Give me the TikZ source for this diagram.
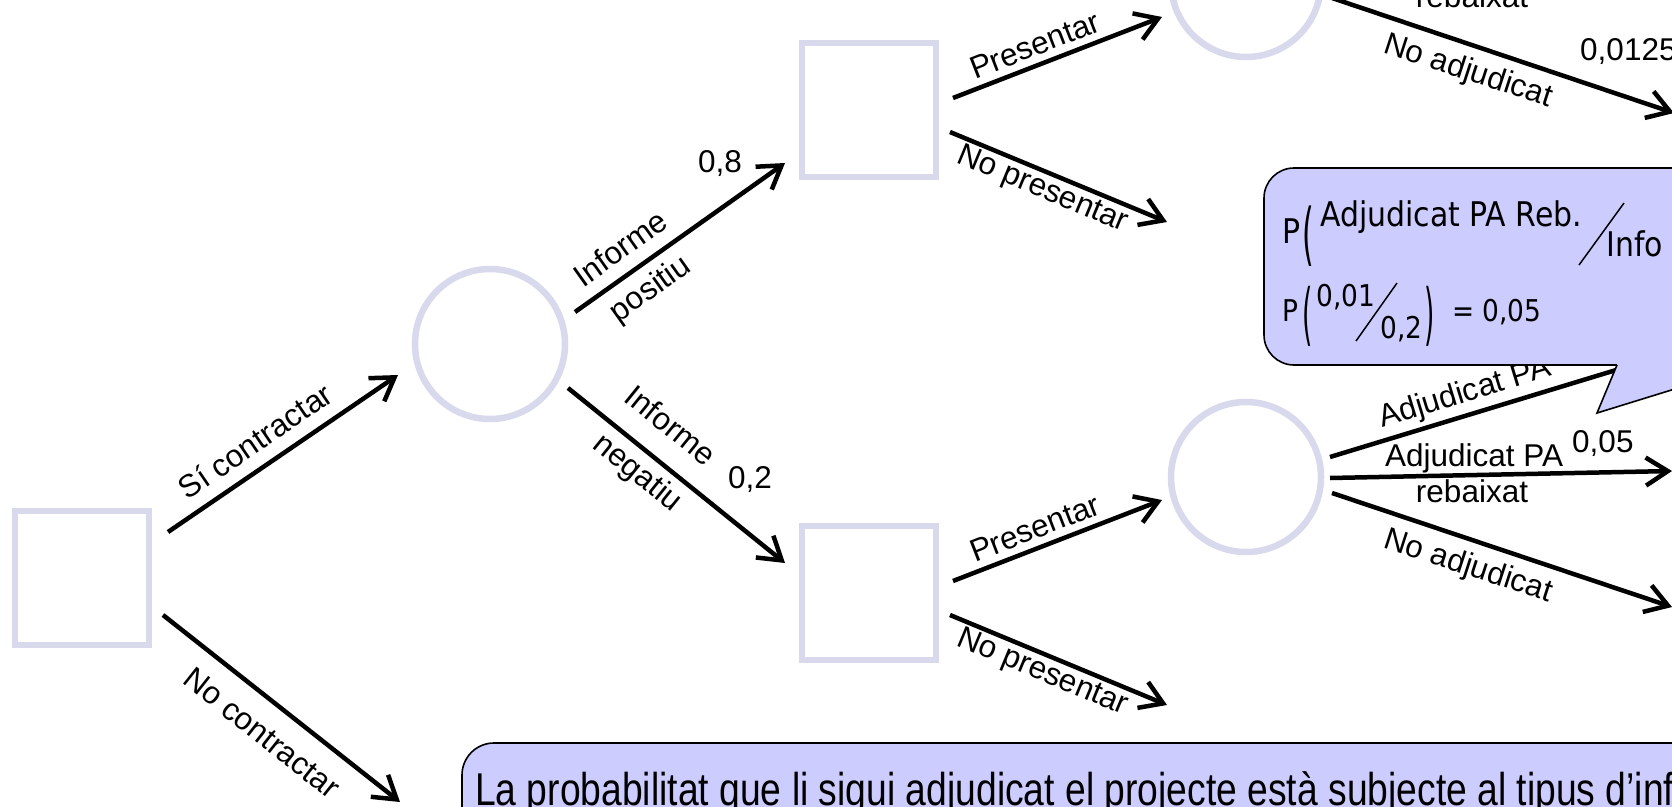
\documentclass[tikz,border=0pt]{standalone}
\usepackage{fontspec}
\setmainfont{Liberation Sans}
\newfontfamily\calfont[FakeStretch=0.88]{DejaVu Sans}
\newfontfamily\narrowfont[FakeStretch=0.81]{Liberation Sans}
\usetikzlibrary{arrows.meta}
\definecolor{lav}{RGB}{217,217,238}
\definecolor{callfill}{RGB}{204,204,255}
\begin{document}
\begin{tikzpicture}[x=1pt,y=-1pt,
  decsq/.style={draw=lav, line width=6.5pt, rectangle, minimum size=134pt, inner sep=0pt},
  chance/.style={draw=lav, line width=6.5pt, circle, minimum size=150pt, inner sep=0pt},
  conn/.style={line width=4.5pt, -{Straight Barb[length=22pt,width=28pt]}},
  lbl/.style={font=\fontsize{31.5}{36}\selectfont, inner sep=0pt},
  cone/.style={font=\calfont\fontsize{34}{38}\selectfont, inner sep=0pt, anchor=base west},
  ctwo/.style={font=\calfont\fontsize{30}{34}\selectfont, inner sep=0pt, anchor=base west},
  callbox/.style={fill=callfill, draw=black, line width=1.6pt},
  fracbar/.style={line width=1.5pt},
]
\path[use as bounding box] (0,0) rectangle (1672,806);
\clip (0,0) rectangle (1672,806);
\fill[white] (0,0) rectangle (1672,806);

% decision and chance nodes
\node[decsq] (sq1) at (82,578) {};
\node[chance] (c1) at (490,344) {};
\node[decsq] (sq2) at (869,110) {};
\node[decsq] (sq3) at (869,593) {};
\node[chance] (c2) at (1246,-18) {};
\node[chance] (c3) at (1246,477) {};

% free ends
\coordinate (e2) at (400,802);
\coordinate (e6) at (1167,222);
\coordinate (e8) at (1167,705);
\coordinate (e9) at (1674,113);
\coordinate (e10) at (1672,353);
\coordinate (e11) at (1672,471);
\coordinate (e12) at (1672,607);

% connectors
\draw[conn] ([shift={(86,-46)}]sq1.center) -- ([shift={(-92,31)}]c1.center);
\draw[conn] ([shift={(81,37)}]sq1.center) -- (e2);
\draw[conn] ([shift={(85,-32)}]c1.center) -- ([shift={(-84,53)}]sq2.center);
\draw[conn] ([shift={(78,44)}]c1.center) -- ([shift={(-84,-30)}]sq3.center);
\draw[conn] ([shift={(84,-12)}]sq2.center) -- ([shift={(-84,35)}]c2.center);
\draw[conn] ([shift={(81,22)}]sq2.center) -- (e6);
\draw[conn] ([shift={(84,-12)}]sq3.center) -- ([shift={(-84,23)}]c3.center);
\draw[conn] ([shift={(81,22)}]sq3.center) -- (e8);
\draw[conn] ([shift={(86,16)}]c2.center) -- (e9);
\draw[conn] ([shift={(84,-20)}]c3.center) -- (e10);
\draw[conn] ([shift={(84,1)}]c3.center) -- (e11);
\draw[conn] ([shift={(86,16)}]c3.center) -- (e12);

% labels
\node[lbl, rotate=34.3] (l1) at (255,441) {Sí contractar};
\node[lbl, rotate=-38.3] (l2) at (262,733) {No contractar};
\node[lbl, rotate=35.4] (l3a) at (620,248) {Informe};
\node[lbl, rotate=35.4] (l3b) at (651,290) {positiu};
\node[lbl] (l4) at (720,164) {0,8};
\node[lbl, rotate=-38.9] (l5a) at (671,425) {Informe};
\node[lbl, rotate=-38.9] (l5b) at (637,474) {negatiu};
\node[lbl] (l6) at (750,480) {0,2};
\node[lbl, rotate=21.2] (l7) at (1035,45) {Presentar};
\node[lbl, rotate=-22.5] (l8) at (1042,190) {No presentar};
\node[lbl, rotate=21.2] (l9) at (1035,528) {Presentar};
\node[lbl, rotate=-22.5] (l10) at (1042,673) {No presentar};
\node[lbl, anchor=base] (l11) at (1472,7) {rebaixat};
\node[lbl, rotate=-18] (l12) at (1468,72) {No adjudicat};
\node[lbl, anchor=base west] (l13) at (1580,60) {0,0125};
\node[lbl, rotate=17] (l14) at (1465,394) {Adjudicat PA};
\node[lbl, anchor=base] (l15) at (1474,466) {Adjudicat PA};
\node[lbl, anchor=base] (l16) at (1472,502) {rebaixat};
\node[lbl, anchor=base west] (l17) at (1572,452) {0,05};
\node[lbl, rotate=-18] (l18) at (1468,567) {No adjudicat};

% callout
\draw[callbox, rounded corners=30pt] (1264,168) rectangle (1720,365);
\fill[callfill] (1617,363) -- (1617,365) -- (1597,413) -- (1720,375) -- (1720,363) -- cycle;
\draw[line width=1.6pt] (1617,365) -- (1597,413) -- (1720,375);

\node[cone] (p1) at (1282,243) {P};
\node[cone] (o1) at (1302,257) {\scalebox{1}[2]{(}};
\node[cone] (n1) at (1320,226) {Adjudicat PA Reb.};
\draw[fracbar] (1579,265) -- (1624,203);
\node[cone] (d1) at (1606,256) {Info};

\node[ctwo] (p2) at (1282,321) {P};
\node[ctwo] (o2) at (1302,337) {\scalebox{1}[2.25]{(}};
\node[ctwo] (n2) at (1316,306) {0,01};
\draw[fracbar] (1356,341) -- (1397,283);
\node[ctwo] (d2) at (1380,338) {0,2};
\node[ctwo] (cp2) at (1424,337) {\scalebox{1}[2.25]{)}};
\node[ctwo] (eq) at (1452,321) {= 0,05};

% bottom note
\draw[callbox, rounded corners=32pt] (462,743) rectangle (1760,900);
\node[font=\narrowfont\fontsize{46}{50}\selectfont, anchor=base west, inner sep=0pt] (bt) at (475,805) {La probabilitat que li sigui adjudicat el projecte està subjecte al tipus d’inf};
\end{tikzpicture}
\end{document}
